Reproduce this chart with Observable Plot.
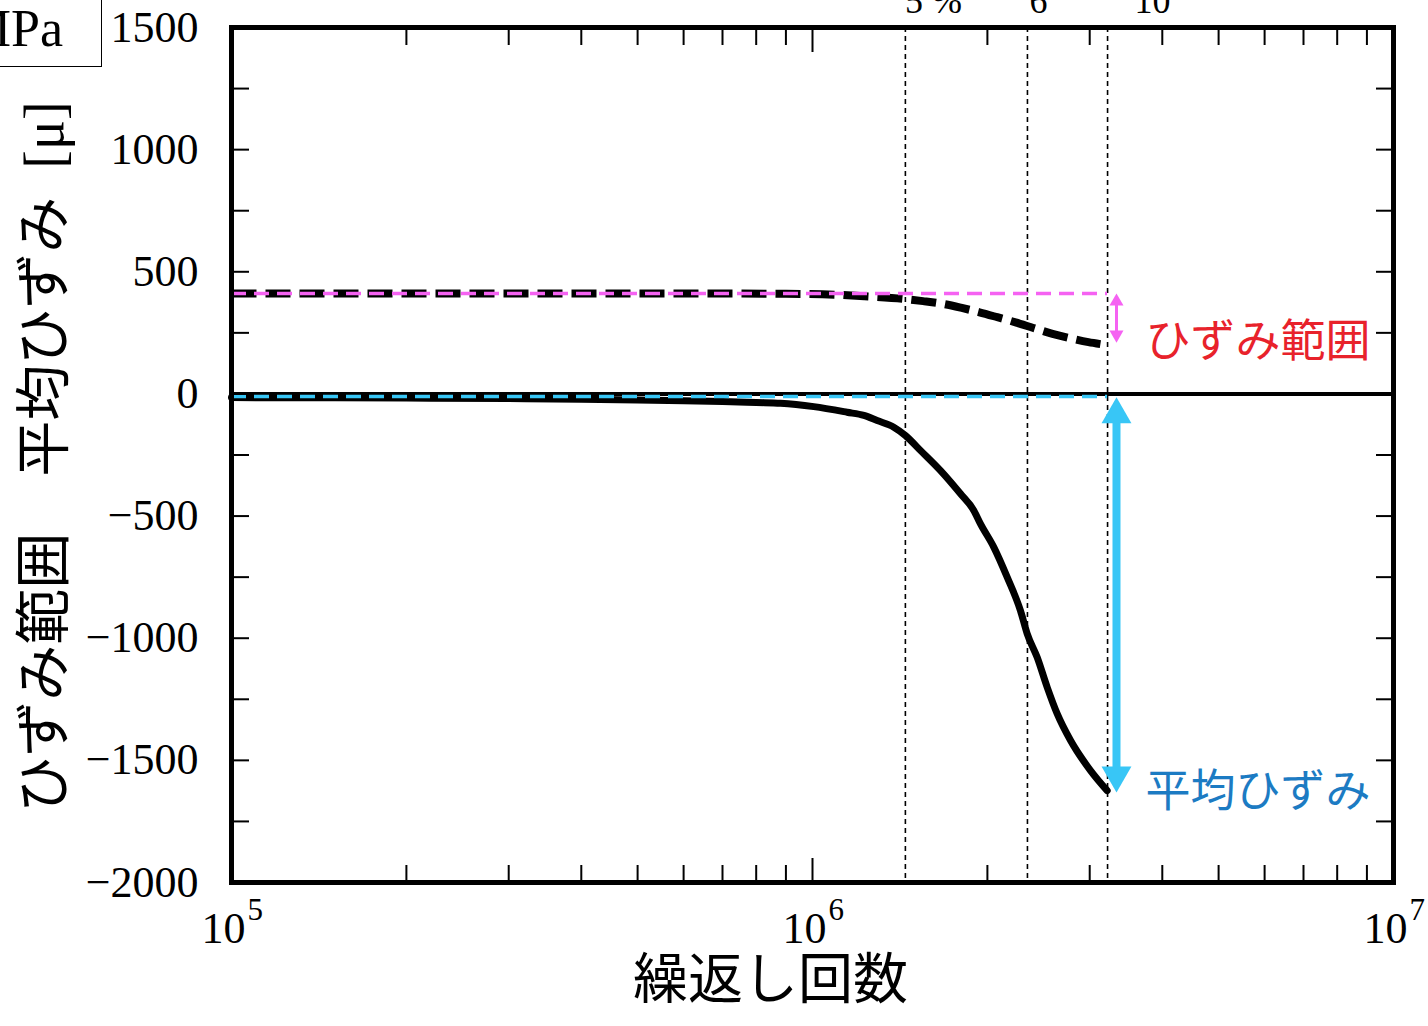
<!DOCTYPE html>
<html><head><meta charset="utf-8">
<script src="https://cdn.jsdelivr.net/npm/d3@7"></script>
<script src="https://cdn.jsdelivr.net/npm/@observablehq/plot@0.6"></script>
<style>
html,body{margin:0;padding:0;background:#fff;overflow:hidden;}
#wrap{position:relative;width:1428px;height:1026px;overflow:hidden;}
#wrap svg{position:absolute;left:0;top:0;}
#unit{position:absolute;z-index:2;left:-58px;top:-40px;width:160px;height:107px;box-sizing:border-box;border:1.5px solid #000;font-family:'Liberation Serif',serif;font-size:52px;text-align:right;padding-right:38px;line-height:52px;padding-top:42px;background:#fff;color:#000;white-space:nowrap;overflow:hidden;}
</style></head><body><div id="wrap"></div>
<script>
// ---- data ----
const xMajorTicks = [1e5, 1e6, 1e7];
const xMajorExp = ["5", "6", "7"];
const xMinorTicks = [2e5,3e5,4e5,5e5,6e5,7e5,8e5,9e5,2e6,3e6,4e6,5e6,6e6,7e6,8e6,9e6];
const yTicks = [-2000,-1750,-1500,-1250,-1000,-750,-500,-250,0,250,500,750,1000,1250,1500];
const yLabelValues = [1500,1000,500,0,-500,-1000,-1500,-2000];

const meanN = [1e5,2e5,3e5,4e5,5e5,6e5,7e5,8e5,8.81e5,1.005e6,1.147e6,1.226e6,1.292e6,1.38e6,1.445e6,1.535e6,1.661e6,1.798e6,1.895e6,1.946e6,2.052e6,2.163e6,2.28e6,2.342e6,2.436e6,2.535e6,2.638e6,2.781e6,3.01e6,3.215e6];
const meanStrain = [-15,-17,-19,-22,-25,-28,-31,-35,-38,-52,-75,-88,-109,-136,-170,-232,-314,-409,-477,-532,-628,-750,-887,-982,-1078,-1201,-1310,-1419,-1542,-1624];

const rangeN = [1e5,3e5,6e5,9e5,1.1e6,1.25e6,1.434e6,1.55e6,1.674e6,1.8e6,1.938e6,2.08e6,2.236e6,2.4e6,2.589e6,2.8e6,2.985e6,3.13e6];
const rangeStrain = [411,411,411,410,406,399,389,380,369,353,334,314,293,270,246,226,212,204];

const refRangeLevel = 411;
const refMeanLevel = -11;
const refStartN = 1e5;
const refEndN = 3.22e6;

const markerN = [1.445e6, 2.344e6, 3.22e6];
const markerLabels = ["5 %", "6", "10"];
const markerLabelN = [1.616e6, 2.449e6, 3.848e6];

const arrowN = 3.336e6;
const rangeArrowEnds = [411, 210];
const meanArrowEnds = [-15, -1630];

const annotN = 3.742e6;
const annotRangeText = "ひずみ範囲";
const annotRangeY = 210;
const annotMeanText = "平均ひずみ";
const annotMeanY = -1632;

const xAxisLabel = "繰返し回数";
const yAxisLabel = "ひずみ範囲　平均ひずみ  [μ]";
const unitLabel = "MPa";

// ---- styles ----
const magenta = "#f562f2";
const cyan = "#38c6f6";
const red = "#e8222b";
const blue = "#1c7bc3";
const serif = "'Liberation Serif', 'Noto Sans CJK JP', serif";

const meanData = meanN.map((n, i) => ({n, v: meanStrain[i]}));
const rangeData = rangeN.map((n, i) => ({n, v: rangeStrain[i]}));

const chart = Plot.plot({
  width: 1428, height: 1026,
  marginTop: 27, marginBottom: 144, marginLeft: 231, marginRight: 35,
  x: {type: "log", domain: [1e5, 1e7]},
  y: {domain: [-2000, 1500]},
  style: {fontFamily: serif, background: "white", color: "black"},
  marks: [
    Plot.ruleX(markerN, {x: d => d, stroke: "black", strokeWidth: 1.6, strokeDasharray: "5,4"}),
    Plot.ruleY([0], {strokeWidth: 4}),
    Plot.line(rangeData, {x: "n", y: "v", strokeWidth: 8, strokeDasharray: "25,9", strokeLinecap: "butt", curve: "monotone-x"}),
    Plot.ruleY([refRangeLevel], {y: d => d, x1: refStartN, x2: refEndN, stroke: magenta, strokeWidth: 3.5, strokeDasharray: "15,8"}),
    Plot.line(meanData, {x: "n", y: "v", strokeWidth: 7, curve: "monotone-x"}),
    Plot.ruleY([refMeanLevel], {y: d => d, x1: refStartN, x2: refEndN, stroke: cyan, strokeWidth: 3.5, strokeDasharray: "15,8"}),
    // range arrow
    Plot.ruleX([arrowN], {x: d => d, y1: rangeArrowEnds[0], y2: rangeArrowEnds[1], stroke: magenta, strokeWidth: 3, insetTop: 7, insetBottom: 7}),
    Plot.dot([rangeArrowEnds[0]], {x: arrowN, y: d => d, symbol: "triangle", r: 5.2, fill: magenta, stroke: null, dy: 8}),
    Plot.dot([rangeArrowEnds[1]], {x: arrowN, y: d => d, symbol: "triangle", r: 5.2, fill: magenta, stroke: null, rotate: 180, dy: -8}),
    // mean arrow
    Plot.ruleX([arrowN], {x: d => d, y1: meanArrowEnds[0], y2: meanArrowEnds[1], stroke: cyan, strokeWidth: 8, insetTop: 16, insetBottom: 16}),
    Plot.dot([meanArrowEnds[0]], {x: arrowN, y: d => d, symbol: "triangle", r: 11.1, fill: cyan, stroke: null, dy: 17}),
    Plot.dot([meanArrowEnds[1]], {x: arrowN, y: d => d, symbol: "triangle", r: 11.1, fill: cyan, stroke: null, rotate: 180, dy: -17}),
    // inward ticks
    Plot.axisX(xMinorTicks, {anchor: "bottom", tickSize: 17, dy: -17, fill: "none", strokeWidth: 2}),
    Plot.axisX(xMinorTicks, {anchor: "top", tickSize: 17, dy: 17, fill: "none", strokeWidth: 2}),
    Plot.axisX(xMajorTicks, {anchor: "bottom", tickSize: 24, dy: -24, fill: "none", strokeWidth: 2}),
    Plot.axisX(xMajorTicks, {anchor: "top", tickSize: 24, dy: 24, fill: "none", strokeWidth: 2}),
    Plot.axisY(yTicks, {anchor: "left", tickSize: 18, dx: 18, fill: "none", strokeWidth: 2}),
    Plot.axisY(yTicks, {anchor: "right", tickSize: 18, dx: -18, fill: "none", strokeWidth: 2}),
    Plot.frame({strokeWidth: 5}),
    // tick labels
    Plot.text(yLabelValues, {y: d => d, text: d => d < 0 ? "\u2212" + Math.abs(d) : String(d), frameAnchor: "left", textAnchor: "end", dx: -33, fontSize: 44}),
    Plot.text(xMajorTicks, {x: d => d, text: () => "10", frameAnchor: "bottom", textAnchor: "end", lineAnchor: "bottom", dx: 14, dy: 60, fontSize: 44}),
    Plot.text(xMajorTicks, {x: d => d, text: (d, i) => xMajorExp[i], frameAnchor: "bottom", textAnchor: "start", lineAnchor: "bottom", dx: 16, dy: 37, fontSize: 31}),
    // labels above the markers (cut by the top edge, as in the reference)
    Plot.text(markerLabels, {x: (d, i) => markerLabelN[i], text: d => d, frameAnchor: "top", lineAnchor: "bottom", dy: -15, fontSize: 36}),
    // annotations
    Plot.text([annotRangeText], {x: annotN, y: annotRangeY, text: d => d, textAnchor: "start", fill: red, fontSize: 45}),
    Plot.text([annotMeanText], {x: annotN, y: annotMeanY, text: d => d, textAnchor: "start", fill: blue, fontSize: 45}),
    // axis labels
    Plot.text([xAxisLabel], {text: d => d, frameAnchor: "bottom", textAnchor: "middle", dx: -42, dy: 115, fontSize: 55}),
    Plot.text([yAxisLabel], {text: d => d, frameAnchor: "left", textAnchor: "middle", rotate: -90, dx: -186, dy: 2, fontSize: 56})
  ]
});
const wrap = document.getElementById("wrap");
wrap.appendChild(chart);
const unit = document.createElement("div");
unit.id = "unit";
unit.textContent = unitLabel;
wrap.appendChild(unit);
</script>
</body></html>
